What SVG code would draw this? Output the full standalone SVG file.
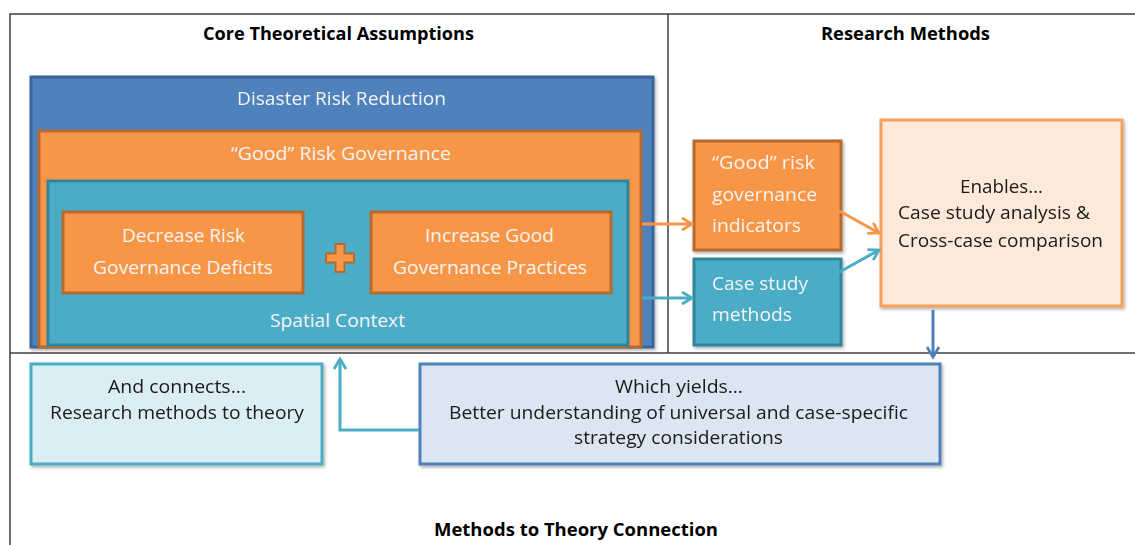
<svg xmlns="http://www.w3.org/2000/svg" width="1135" height="545" viewBox="0 0 1135 545">
  <style>
    text { font-family: "Open Sans", "Liberation Sans", sans-serif; }
    .title { font-size: 17px; font-weight: bold; fill: #000; }
    .lbl { font-size: 18px; fill: #f4f4f4; }
    .dark { font-size: 18px; fill: #1a1a1a; }
    .frame { fill: none; stroke: #3f3f3f; stroke-width: 1.5; }
    .blue { fill: #4f81bd; stroke: #3b659a; stroke-width: 3; }
    .orange { fill: #f79646; stroke: #b66a30; stroke-width: 3; }
    .teal { fill: #4bacc6; stroke: #31849b; stroke-width: 3; }
    .conn { fill: none; stroke-width: 3; }
  </style>
  <defs>
    <filter id="shadow" x="-5%" y="-5%" width="115%" height="120%">
      <feDropShadow dx="1.5" dy="2" stdDeviation="1.5" flood-color="#000" flood-opacity="0.3"/>
    </filter>
    <marker id="arrOrange" viewBox="0 0 14 14" refX="12" refY="7" markerWidth="14" markerHeight="14" markerUnits="userSpaceOnUse" orient="auto">
      <polyline points="2,1 12,7 2,13" fill="none" stroke="#f79646" stroke-width="2.8"/>
    </marker>
    <marker id="arrTeal" viewBox="0 0 14 14" refX="12" refY="7" markerWidth="14" markerHeight="14" markerUnits="userSpaceOnUse" orient="auto">
      <polyline points="2,1 12,7 2,13" fill="none" stroke="#4bacc6" stroke-width="2.8"/>
    </marker>
    <marker id="arrBlue" viewBox="0 0 14 14" refX="12" refY="7" markerWidth="14" markerHeight="14" markerUnits="userSpaceOnUse" orient="auto">
      <polyline points="2,1 12,7 2,13" fill="none" stroke="#4f81bd" stroke-width="2.8"/>
    </marker>
  </defs>

  <rect width="1135" height="545" fill="#ffffff"/>

  <!-- section frame -->
  <g id="frame">
    <path class="frame" d="M10,545 V14 H1135"/>
    <path class="frame" d="M668,14 V353"/>
    <path class="frame" d="M10,353 H1135"/>
  </g>

  <!-- section titles -->
  <g id="titles">
    <text class="title" x="338.5" y="40" text-anchor="middle" textLength="271" lengthAdjust="spacingAndGlyphs">Core Theoretical Assumptions</text>
    <text class="title" x="905.5" y="40" text-anchor="middle" textLength="169" lengthAdjust="spacingAndGlyphs">Research Methods</text>
    <text class="title" x="576" y="536" text-anchor="middle" textLength="284" lengthAdjust="spacingAndGlyphs">Methods to Theory Connection</text>
  </g>

  <!-- nested theory boxes -->
  <g id="drr" filter="url(#shadow)">
    <rect class="blue" x="31" y="77" width="622" height="270"/>
    <text class="lbl" x="341.5" y="105" text-anchor="middle" textLength="209" lengthAdjust="spacingAndGlyphs">Disaster Risk Reduction</text>
  </g>
  <g id="good-governance">
    <rect class="orange" x="39" y="131" width="602" height="216"/>
    <text class="lbl" x="341" y="160" text-anchor="middle" textLength="220" lengthAdjust="spacingAndGlyphs">“Good” Risk Governance</text>
  </g>
  <g id="spatial-context">
    <rect class="teal" x="48" y="181" width="580" height="164"/>
    <text class="lbl" x="337.5" y="327" text-anchor="middle" textLength="135" lengthAdjust="spacingAndGlyphs">Spatial Context</text>
  </g>
  <g id="decrease">
    <rect class="orange" x="63" y="212" width="240" height="81"/>
    <text class="lbl" x="183.5" y="242" text-anchor="middle" textLength="123" lengthAdjust="spacingAndGlyphs">Decrease Risk</text>
    <text class="lbl" x="183" y="274" text-anchor="middle" textLength="180" lengthAdjust="spacingAndGlyphs">Governance Deficits</text>
  </g>
  <g id="plus">
    <path d="M335.5,244 H344.5 V253.5 H354 V262.5 H344.5 V272 H335.5 V262.5 H326 V253.5 H335.5 Z" fill="#f79646" stroke="#b66a30" stroke-width="2"/>
  </g>
  <g id="increase">
    <rect class="orange" x="371" y="212" width="240" height="81"/>
    <text class="lbl" x="489.5" y="242" text-anchor="middle" textLength="129" lengthAdjust="spacingAndGlyphs">Increase Good</text>
    <text class="lbl" x="490" y="274" text-anchor="middle" textLength="194" lengthAdjust="spacingAndGlyphs">Governance Practices</text>
  </g>

  <!-- research method boxes -->
  <g id="indicators" filter="url(#shadow)">
    <rect class="orange" x="694" y="141" width="147" height="109"/>
    <text class="lbl" x="712" y="169" textLength="103" lengthAdjust="spacingAndGlyphs">“Good” risk</text>
    <text class="lbl" x="712" y="201" textLength="105" lengthAdjust="spacingAndGlyphs">governance</text>
    <text class="lbl" x="712" y="232" textLength="89" lengthAdjust="spacingAndGlyphs">indicators</text>
  </g>
  <g id="case-methods" filter="url(#shadow)">
    <rect class="teal" x="694" y="259" width="147" height="86"/>
    <text class="lbl" x="712" y="290" textLength="96" lengthAdjust="spacingAndGlyphs">Case study</text>
    <text class="lbl" x="712" y="321" textLength="80" lengthAdjust="spacingAndGlyphs">methods</text>
  </g>
  <g id="enables" filter="url(#shadow)">
    <rect x="881" y="120" width="241" height="186" fill="#fde9d9" stroke="#f8a15c" stroke-width="3"/>
    <text class="dark" x="1001.5" y="193" text-anchor="middle" textLength="83" lengthAdjust="spacingAndGlyphs">Enables…</text>
    <text class="dark" x="898" y="219" textLength="192" lengthAdjust="spacingAndGlyphs">Case study analysis &amp;</text>
    <text class="dark" x="898" y="247" textLength="205" lengthAdjust="spacingAndGlyphs">Cross-case comparison</text>
  </g>

  <!-- connection boxes -->
  <g id="connects" filter="url(#shadow)">
    <rect x="31" y="364" width="291" height="100" fill="#dbeef4" stroke="#4bacc6" stroke-width="3"/>
    <text class="dark" x="177" y="393" text-anchor="middle" textLength="138" lengthAdjust="spacingAndGlyphs">And connects...</text>
    <text class="dark" x="177" y="419" text-anchor="middle" textLength="254" lengthAdjust="spacingAndGlyphs">Research methods to theory</text>
  </g>
  <g id="yields" filter="url(#shadow)">
    <rect x="420" y="364" width="520" height="100" fill="#dce6f2" stroke="#4f81bd" stroke-width="3"/>
    <text class="dark" x="679" y="393" text-anchor="middle" textLength="128" lengthAdjust="spacingAndGlyphs">Which yields…</text>
    <text class="dark" x="678.5" y="419" text-anchor="middle" textLength="459" lengthAdjust="spacingAndGlyphs">Better understanding of universal and case-specific</text>
    <text class="dark" x="678.5" y="444" text-anchor="middle" textLength="209" lengthAdjust="spacingAndGlyphs">strategy considerations</text>
  </g>

  <!-- connectors -->
  <g id="connectors" class="conn">
    <line x1="642" y1="224" x2="692" y2="224" stroke="#f79646" stroke-width="3" marker-end="url(#arrOrange)"/>
    <line x1="642" y1="298" x2="692" y2="298" stroke="#4bacc6" stroke-width="3" marker-end="url(#arrTeal)"/>
    <line x1="834" y1="208" x2="879" y2="233" stroke="#f79646" stroke-width="3" marker-end="url(#arrOrange)"/>
    <line x1="836" y1="274" x2="879" y2="250" stroke="#4bacc6" stroke-width="3" marker-end="url(#arrTeal)"/>
    <line x1="933" y1="310" x2="933" y2="357" stroke="#4f81bd" stroke-width="3" marker-end="url(#arrBlue)"/>
    <polyline points="419,430 340,430 340,359" fill="none" stroke="#4bacc6" stroke-width="3" marker-end="url(#arrTeal)"/>
  </g>
</svg>
